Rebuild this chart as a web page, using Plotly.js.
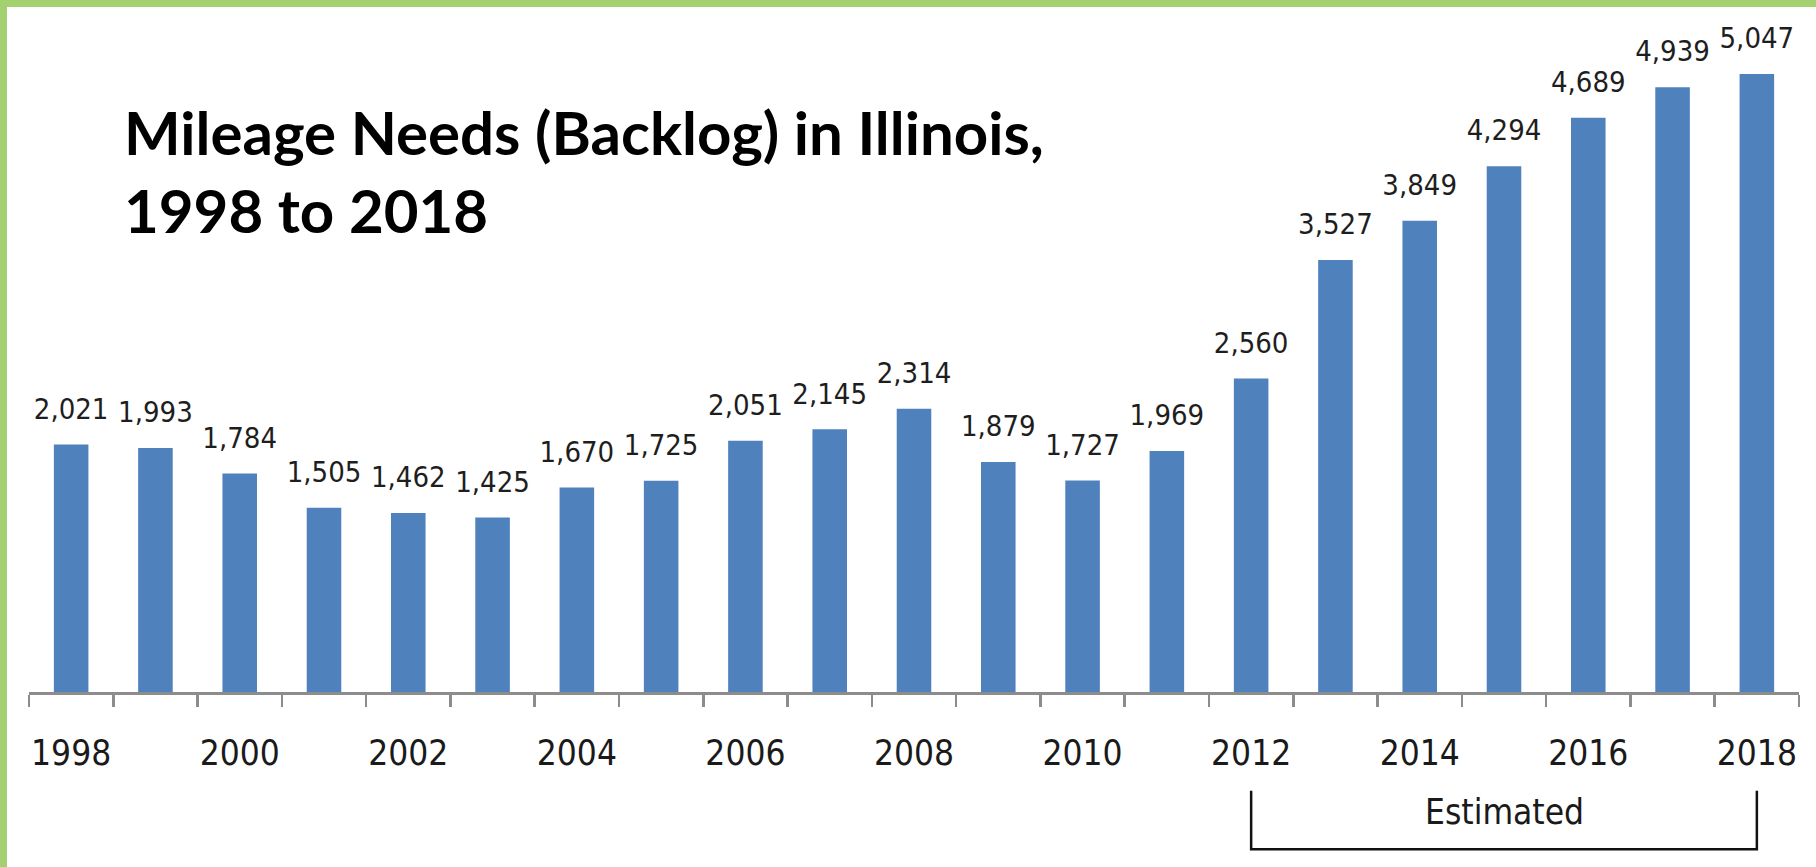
<!DOCTYPE html>
<html>
<head>
<meta charset="utf-8">
<script src="https://cdn.plot.ly/plotly-3.0.1.min.js"></script>
<style>
  html, body { margin: 0; padding: 0; background: #ffffff; }
  #wrap { position: relative; width: 1816px; height: 867px; overflow: hidden; }
  #chart { position: absolute; left: 0; top: 0; width: 1816px; height: 867px; }
  #frame { position: absolute; left: 0; top: 0; width: 1816px; height: 867px;
           box-sizing: border-box; border-top: 7px solid #a3d16f; border-left: 7px solid #a3d16f;
           pointer-events: none; }
</style>
</head>
<body>
<div id="wrap">
  <div id="chart"></div>
  <div id="frame"></div>
</div>
<script>
// ---- data ----
const years = [1998, 1999, 2000, 2001, 2002, 2003, 2004, 2005, 2006, 2007, 2008,
               2009, 2010, 2011, 2012, 2013, 2014, 2015, 2016, 2017, 2018];
const backlogMiles = [2021, 1993, 1784, 1505, 1462, 1425, 1670, 1725, 2051, 2145, 2314,
                      1879, 1727, 1969, 2560, 3527, 3849, 4294, 4689, 4939, 5047];
const tickYears = [1998, 2000, 2002, 2004, 2006, 2008, 2010, 2012, 2014, 2016, 2018];
const tickLabels = ["1998", "2000", "2002", "2004", "2006", "2008", "2010", "2012", "2014", "2016", "2018"];
const estimatedStart = 2012;
const estimatedEnd = 2018;
const estimatedLabel = "Estimated";
const chartTitle = "Mileage Needs (Backlog) in Illinois,<br>1998 to 2018";

const condensed = "'DejaVu Sans Condensed', 'Liberation Sans Narrow', 'Arial Narrow', sans-serif";

const bars = {
  type: 'bar',
  x: years,
  y: backlogMiles,
  width: 0.41,
  marker: { color: '#4f81bd', line: { width: 0 } },
  hoverinfo: 'x+y',
  showlegend: false
};

const labels = {
  type: 'scatter',
  mode: 'markers+text',
  x: years,
  y: backlogMiles,
  texttemplate: '%{y:,}',
  textposition: 'top center',
  textfont: { family: condensed, size: 29, color: '#1e1e1e' },
  marker: { size: 28, opacity: 0 },
  hoverinfo: 'skip',
  showlegend: false,
  cliponaxis: false
};

const layout = {
  width: 1816,
  height: 867,
  margin: { l: 29, r: 17, t: 20, b: 175 },
  paper_bgcolor: '#ffffff',
  plot_bgcolor: '#ffffff',
  showlegend: false,
  title: {
    text: chartTitle,
    font: { family: "Lato, 'Open Sans', sans-serif", size: 60, color: '#000000', weight: 'bold' },
    x: 124 / 1816, xref: 'container', xanchor: 'left',
    y: 1 - 155 / 867, yref: 'container', yanchor: 'top',
    align: 'left'
  },
  xaxis: {
    type: 'linear',
    range: [1997.5, 2018.5],
    tickmode: 'array',
    tickvals: tickYears,
    ticktext: tickLabels,
    ticks: '',
    showgrid: false,
    zeroline: false,
    showline: true,
    linecolor: '#8c8c8c',
    linewidth: 2.5,
    tickfont: { family: condensed, size: 35, color: '#1a1a1a' },
    ticklabelstandoff: 28,
    minor: { tick0: 1997.5, dtick: 1, ticks: 'outside', ticklen: 12, tickwidth: 2.5, tickcolor: '#8c8c8c', showgrid: false },
    fixedrange: true
  },
  yaxis: {
    range: [0, 5488],
    visible: false,
    showgrid: false,
    zeroline: false,
    fixedrange: true
  },
  shapes: [
    { type: 'path', xref: 'x', yref: 'paper',
      path: 'M ' + estimatedStart + ',-0.147 L ' + estimatedStart + ',-0.234 L ' + estimatedEnd + ',-0.234 L ' + estimatedEnd + ',-0.147',
      line: { color: '#111111', width: 2.5 } }
  ],
  annotations: [
    { text: estimatedLabel, xref: 'x', yref: 'paper',
      x: (estimatedStart + estimatedEnd) / 2, y: -0.178,
      xanchor: 'center', yanchor: 'middle', showarrow: false,
      font: { family: condensed, size: 35, color: '#1a1a1a' } }
  ]
};

Plotly.newPlot('chart', [bars, labels], layout, { staticPlot: true, displayModeBar: false });
</script>
</body>
</html>
